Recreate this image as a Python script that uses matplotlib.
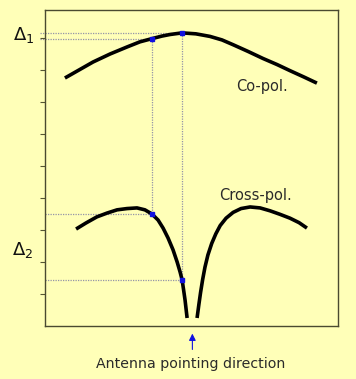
import matplotlib
matplotlib.use("Agg")
import matplotlib.pyplot as plt

# Data (arbitrary angle units 0-100, level units 0-~10)
copol_x = [6.8, 11.6, 16.4, 22.2, 28.0, 32.4, 36.5, 39.9, 42.7, 46.8, 51.5, 56.3,
           60.4, 64.2, 69.3, 74.4, 79.2, 83.6, 88.4, 92.8]
copol_y = [7.75, 8.0, 8.25, 8.5, 8.72, 8.88, 8.98, 9.06, 9.11, 9.16, 9.13, 9.05,
           8.94, 8.79, 8.58, 8.36, 8.17, 7.98, 7.78, 7.59]

xpol_left_x = [10.6, 14.0, 17.7, 21.2, 24.6, 28.0, 31.4, 34.1, 36.5, 38.6, 40.3,
               42.0, 43.7, 45.1, 46.1, 46.8, 47.3, 47.8, 48.5]
xpol_left_y = [3.03, 3.22, 3.41, 3.53, 3.63, 3.67, 3.69, 3.63, 3.5, 3.31, 3.06,
               2.75, 2.38, 2.0, 1.69, 1.44, 1.13, 0.81, 0.25]

xpol_right_x = [51.9, 52.5, 53.1, 53.8, 54.6, 55.6, 56.9, 58.3, 59.8, 61.8, 64.2,
                66.9, 70.0, 73.4, 76.8, 80.2, 83.6, 86.7, 89.4]
xpol_right_y = [0.25, 0.66, 1.05, 1.45, 1.84, 2.22, 2.58, 2.88, 3.14, 3.37, 3.55,
                3.67, 3.72, 3.69, 3.60, 3.49, 3.37, 3.23, 3.06]

marker_x = [36.5, 46.8, 36.5, 46.8]
marker_y = [8.98, 9.16, 3.5, 1.44]

yticks = [1, 2, 3, 4, 5, 6, 7, 8, 9]
pointing_x = 50.3

bg = "#FFFFB8"
fig = plt.figure(figsize=(3.56, 3.79), dpi=100, facecolor=bg)
ax = fig.add_axes([45/356, 1 - 326/379, 293/356, 316/379], facecolor=bg)
ax.set_xlim(0, 100)
ax.set_ylim(0, 316/32)

dot_kw = dict(color="#9494a8", lw=0.9, linestyle=(0, (1, 1)), clip_on=False, zorder=1)
# Delta1 guide lines
ax.plot([-1.7, marker_x[1]], [marker_y[1], marker_y[1]], **dot_kw)
ax.plot([-1.7, marker_x[0]], [marker_y[0], marker_y[0]], **dot_kw)
ax.plot([marker_x[0], marker_x[0]], [marker_y[0], marker_y[2]], **dot_kw)
ax.plot([marker_x[1], marker_x[1]], [marker_y[1], marker_y[3]], **dot_kw)
ax.plot([0, marker_x[2]], [marker_y[2], marker_y[2]], **dot_kw)
ax.plot([0, marker_x[3]], [marker_y[3], marker_y[3]], **dot_kw)

lw = 2.6
line_kw = dict(color="black", lw=lw, solid_capstyle="butt", solid_joinstyle="round", zorder=3)
ax.plot(copol_x, copol_y, **line_kw)
ax.plot(xpol_left_x, xpol_left_y, **line_kw)
ax.plot(xpol_right_x, xpol_right_y, **line_kw)
ax.plot(marker_x, marker_y, linestyle="none", marker="s", ms=3, color="#1010e0", zorder=4)

ax.text(74.1, 7.5, "Co-pol.", ha="center", va="center", fontsize=10.5, color="#2a2a2a")
ax.text(71.7, 4.09, "Cross-pol.", ha="center", va="center", fontsize=10.5, color="#2a2a2a")

ax.text(-7.2, 9.1, r"$\Delta_1$", ha="center", va="center", fontsize=13, color="#111111", clip_on=False)
ax.text(-7.5, 2.38, r"$\Delta_2$", ha="center", va="center", fontsize=13, color="#111111", clip_on=False)

ax.annotate("", xy=(pointing_x, -0.15), xytext=(pointing_x, -0.82),
            arrowprops=dict(arrowstyle="-|>", color="#9494a8", lw=0.8,
                            mutation_scale=10, fc="#1010e0", ec="#1010e0"),
            annotation_clip=False)
ax.text(pointing_x - 0.5, -0.98, "Antenna pointing direction", ha="center", va="top",
        fontsize=10.2, color="#2a2a2a", clip_on=False)

ax.set_yticks(yticks)
ax.set_yticklabels([])
ax.set_xticks([])
ax.tick_params(axis="y", direction="out", length=3.5, width=0.8, color="#555533")
for s in ax.spines.values():
    s.set_color("#4a4a30")
    s.set_linewidth(1.0)

fig.savefig("out.png", dpi=100, facecolor=bg)
